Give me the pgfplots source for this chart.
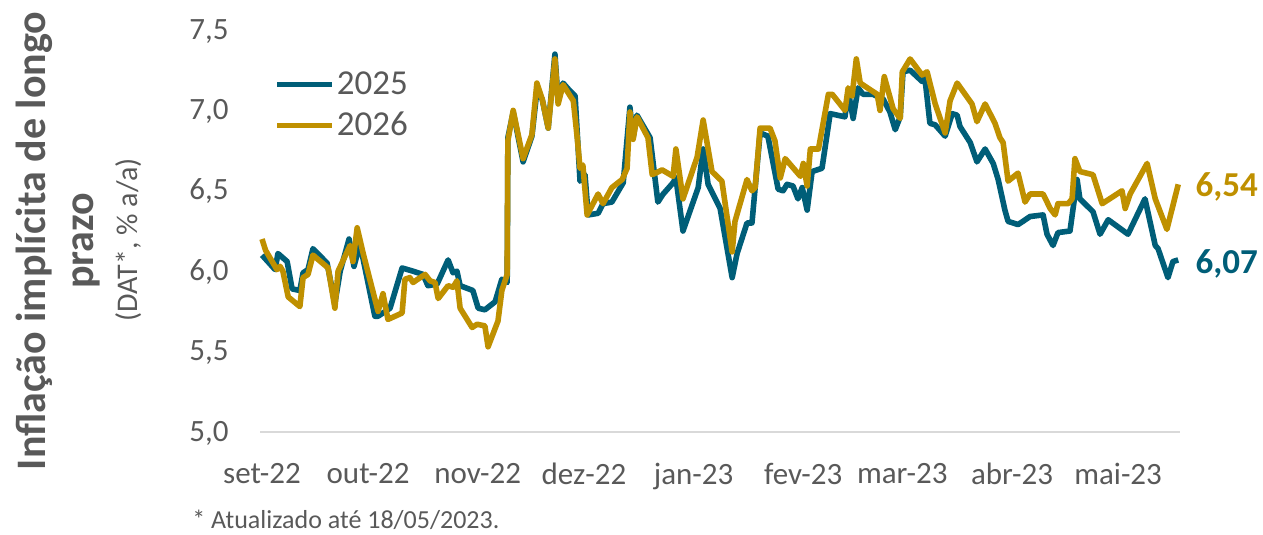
\documentclass[border=0pt]{standalone}
\usepackage{fontspec}
\setmainfont{Carlito}
\usepackage{pgfplots}
\pgfplotsset{compat=1.18}
\definecolor{tealA}{RGB}{0,94,120}
\definecolor{goldB}{RGB}{191,144,0}
\definecolor{txtgray}{RGB}{89,89,89}
\definecolor{basegray}{RGB}{217,217,217}
\begin{document}
\begin{tikzpicture}
\useasboundingbox (0,0) rectangle (631.5pt,267.5pt);
\begin{axis}[
  at={(130pt,51.5pt)}, anchor=south west,
  width=460pt, height=201pt, scale only axis,
  clip=false,
  xmin=-0.57, xmax=259.5,
  ymin=5, ymax=7.5,
  axis x line=bottom, axis y line=left,
  x axis line style={-, draw=basegray, line width=0.8pt},
  y axis line style={draw=none},
  major tick length=0pt, tick style={draw=none},
  xtick={0,30,61,91,122,153,181,212,242},
  xticklabels={set-22,out-22,nov-22,dez-22,jan-23,fev-23,mar-23,abr-23,mai-23},
  ytick={5,5.5,6,6.5,7,7.5},
  /pgf/number format/.cd, use comma, fixed, fixed zerofill, precision=1, assume math mode=true,
  /pgfplots/.cd,
  tick label style={font=\fontsize{15.5}{18}\selectfont, text=txtgray},
  xticklabel style={inner sep=0pt, anchor=north, yshift=-15.5pt},
  yticklabel style={inner sep=0pt, anchor=base east, xshift=-15.5pt, yshift=-4.6pt},
  legend style={draw=none, fill=none, inner sep=0pt, outer sep=0pt,
    at={(0.0163,0.8135)}, anchor=west,
    font=\fontsize{17.5}{20}\selectfont, text=txtgray,
    row sep=7.5pt, column sep=1pt,
    nodes={inner sep=0pt}},
  legend image code/.code={\draw[#1, line width=2.5pt] (0pt,0pt) -- (27.5pt,0pt);},
  legend cell align=left,
]
\addplot[tealA, line width=2.8pt, line join=round] coordinates {
(0,6.10)(3.7,6.01)(4.5,6.11)(7.1,6.06)(8.5,5.89)(10.7,5.88)(11.6,5.99)(13.0,6.01)(14.4,6.14)
(18.4,6.05)(20.6,5.80)(22.1,6.00)(24.6,6.20)(26.0,6.03)(27.7,6.17)(31.9,5.72)(32.8,5.72)
(36.2,5.77)(39.6,6.02)(42.7,6.00)(45.5,5.98)(46.9,5.91)(49.5,5.92)(52.6,6.07)(54.0,5.99)
(55.1,6.00)(56.0,5.91)(59.6,5.88)(61.1,5.77)(63.0,5.76)(65.9,5.81)(67.8,5.95)(69.3,5.93)
(69.5,6.83)(71.0,6.99)(73.8,6.68)(76.3,6.84)(77.7,7.12)(79.2,7.07)(80.9,6.89)(82.8,7.35)
(83.7,7.06)(85.1,7.17)(87.1,7.12)(88.5,7.09)(89.9,6.56)(91.3,6.60)(92.2,6.35)(95.0,6.36)
(96.4,6.42)(98.9,6.43)(102.1,6.55)(104.0,7.02)(104.9,6.83)(106.0,6.97)(109.7,6.83)(111.9,6.43)
(113.4,6.48)(116.2,6.55)(117.0,6.58)(119.0,6.25)(123.3,6.52)(124.7,6.76)(126.1,6.54)(129.5,6.39)
(132.9,5.96)(134.3,6.11)(137.1,6.30)(138.5,6.30)(140.8,6.86)(143.0,6.84)(145.9,6.51)(147.3,6.50)
(148.4,6.54)(150.1,6.53)(151.5,6.45)(152.7,6.52)(154.1,6.38)(155.5,6.62)(158.3,6.64)(160.6,6.98)
(164.8,6.96)(165.7,7.12)(167.1,6.95)(168.5,7.14)(169.9,7.10)(172.7,7.10)(175.6,7.07)(177.5,6.99)
(179.0,6.88)(180.4,6.96)(181.2,7.24)(183.2,7.25)(186.6,7.18)(187.4,7.20)(188.8,6.92)(190.3,6.91)
(193.1,6.84)(195.1,6.98)(196.5,6.97)(197.3,6.90)(200.2,6.80)(202.1,6.68)(204.4,6.76)(206.7,6.67)
(208.1,6.57)(210.0,6.38)(210.9,6.31)(213.7,6.29)(215.1,6.31)(217.1,6.34)(220.8,6.35)(221.9,6.23)
(223.6,6.16)(225.0,6.24)(228.4,6.25)(230.4,6.57)(231.2,6.45)(234.9,6.37)(236.9,6.23)(239.2,6.32)
(244.8,6.23)(249.6,6.45)(252.5,6.16)(253.3,6.14)(256.1,5.96)(257.5,6.06)(259.0,6.07)
};
\addlegendentry{2025}
\addplot[goldB, line width=2.8pt, line join=round] coordinates {
(0,6.20)(1.0,6.13)(4.2,6.01)(5.1,6.03)(5.9,6.00)(7.4,5.84)(10.7,5.78)(11.6,5.96)(13.0,5.98)
(14.4,6.10)(18.7,6.02)(20.6,5.77)(21.5,6.00)(24.9,6.16)(25.7,6.06)(26.9,6.27)(28.6,6.11)
(32.8,5.75)(34.2,5.86)(35.6,5.70)(39.6,5.74)(40.4,5.95)(41.8,5.96)(42.7,5.93)(44.7,5.96)
(46.1,5.98)(47.5,5.94)(48.9,5.93)(49.8,5.83)(52.6,5.91)(54.0,5.90)(55.1,5.94)(56.0,5.77)
(59.4,5.65)(60.8,5.67)(63.0,5.66)(63.9,5.53)(66.7,5.69)(67.8,5.88)(69.3,5.98)(69.5,6.81)
(71.0,7.00)(73.8,6.70)(76.3,6.85)(77.7,7.17)(79.2,7.07)(80.9,6.89)(82.8,7.32)(83.7,7.04)
(85.1,7.16)(87.1,7.09)(88.0,7.06)(89.1,6.83)(89.9,6.64)(90.7,6.66)(91.9,6.35)(95.0,6.48)
(96.4,6.42)(98.9,6.52)(101.8,6.57)(103.2,6.64)(104.0,6.99)(104.9,6.82)(106.0,6.96)(109.1,6.83)
(110.3,6.60)(113.1,6.63)(116.2,6.59)(117.0,6.76)(119.0,6.45)(123.0,6.71)(124.7,6.94)(127.2,6.62)
(130.0,6.56)(132.9,6.12)(133.7,6.31)(137.1,6.57)(138.5,6.50)(139.4,6.52)(140.8,6.89)(143.6,6.89)
(145.0,6.81)(146.5,6.58)(147.9,6.70)(152.2,6.59)(153.0,6.67)(154.1,6.53)(155.0,6.76)(157.3,6.76)
(160.1,7.10)(161.2,7.10)(164.8,7.00)(165.7,7.14)(166.8,7.09)(168.0,7.32)(169.1,7.17)(173.9,7.10)
(174.7,7.00)(175.9,7.21)(178.4,7.01)(180.4,6.95)(181.0,7.24)(183.2,7.32)(186.6,7.22)(188.0,7.24)
(190.3,7.04)(193.1,6.86)(194.5,7.06)(196.5,7.17)(200.7,7.04)(202.1,6.93)(204.4,7.04)(207.2,6.92)
(208.6,6.83)(209.5,6.80)(210.9,6.56)(213.7,6.61)(215.7,6.43)(217.1,6.48)(220.8,6.48)(222.8,6.39)
(224.2,6.35)(225.0,6.42)(227.9,6.42)(229.0,6.45)(229.8,6.70)(231.2,6.62)(234.9,6.60)(237.5,6.42)
(243.1,6.50)(244.0,6.39)(245.4,6.48)(250.2,6.67)(252.5,6.45)(255.8,6.26)(259.0,6.54)
};
\addlegendentry{2026}
\node[anchor=base west, inner sep=0pt, text=goldB, font=\fontsize{17.5}{20}\selectfont\bfseries] at (axis cs:263.8,6.466) {6,54};
\node[anchor=base west, inner sep=0pt, text=tealA, font=\fontsize{17.5}{20}\selectfont\bfseries] at (axis cs:263.8,5.988) {6,07};
\end{axis}
\node[rotate=90, inner sep=0pt, text=txtgray, font=\fontsize{21}{24}\selectfont\bfseries] at (17pt,147pt) {Inflação implícita de longo};
\node[rotate=90, inner sep=0pt, text=txtgray, font=\fontsize{21}{24}\selectfont\bfseries] at (43.25pt,147pt) {prazo};
\node[rotate=90, inner sep=0pt, text=txtgray, font=\fontsize{15}{18}\selectfont] at (64.5pt,147.5pt) {(DAT*, \% a/a)};
\node[anchor=base west, inner sep=0pt, text=txtgray, font=\fontsize{13}{15}\selectfont] at (96pt,3.2pt) {* Atualizado até 18/05/2023.};
\end{tikzpicture}
\end{document}
